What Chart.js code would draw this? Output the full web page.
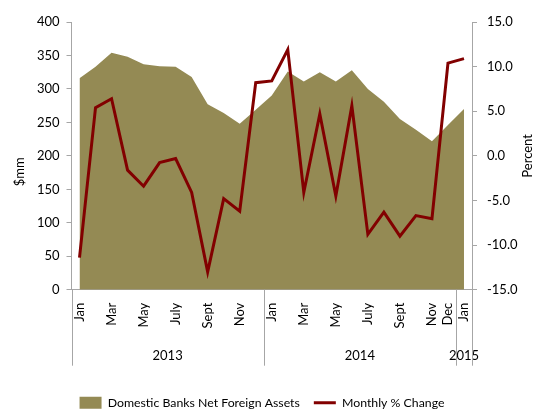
<!DOCTYPE html>
<html>
<head>
<meta charset="utf-8">
<script src="https://cdn.jsdelivr.net/npm/chart.js@4.4.1/dist/chart.umd.min.js"></script>
<style>
body{margin:0;overflow:hidden;background:#fff}
#wrap{width:538px;height:419px;position:relative}
</style>
</head>
<body>
<div id="wrap"><canvas id="grafico"></canvas></div>
<script>
// one entry per month, Jan 2013 .. Jan 2015
var rotulosMeses = ["Jan","","Mar","","May","","July","","Sept","","Nov","",
                    "Jan","","Mar","","May","","July","","Sept","","Nov","Dec","Jan"];
var anos = ["2013","2013","2013","2013","2013","2013","2013","2013","2013","2013","2013","2013",
            "2014","2014","2014","2014","2014","2014","2014","2014","2014","2014","2014","2014","2015"];
var ativosExternos = [316,333,354,348,337,334,333,318,277,264,248,269,
                      290,326,311,325,311,328,300,281,255,239,222,246,270];
var variacaoMensal = [-11.4,5.4,6.4,-1.6,-3.4,-0.75,-0.3,-4.1,-13.0,-4.8,-6.2,8.2,
                      8.4,11.9,-4.1,4.7,-4.5,5.6,-8.8,-6.3,-9.0,-6.7,-7.05,10.4,10.9];
var ticksEsquerda = [0,400,50];
var ticksDireita = [-15,15,5];

var corArea = "#948A54";
var corLinha = "#820000";
var corEixo = "#A6A6A6";
var fonte = "Lato";

// year groups: name, first index, last index
var grupos = [];
anos.forEach(function(a, i){
	var g = grupos[grupos.length - 1];
	if(!g || g.nome != a){
		grupos.push({nome: a, ini: i, fim: i});
	}else{
		g.fim = i;
	}
});

var titulosEixos = {
	id: 'titulosEixos',
	afterDraw: function(chart){
		var ctx = chart.ctx;
		var meio = (chart.chartArea.top + chart.chartArea.bottom) / 2;
		ctx.save();
		ctx.font = "13px " + fonte;
		ctx.fillStyle = "#000";
		ctx.textAlign = "center";
		ctx.textBaseline = "middle";
		ctx.translate(20, meio + 16);
		ctx.rotate(-Math.PI / 2);
		ctx.fillText("$mm", 0, 0);
		ctx.restore();
		ctx.save();
		ctx.font = "13px " + fonte;
		ctx.fillStyle = "#000";
		ctx.textAlign = "center";
		ctx.textBaseline = "middle";
		ctx.translate(chart.width - 10, meio);
		ctx.rotate(-Math.PI / 2);
		ctx.fillText("Percent", 0, 0);
		ctx.restore();
	}
};

// vertical separators between the year groups, below the axis
var separadoresAnos = {
	id: 'separadoresAnos',
	afterDraw: function(chart){
		var ctx = chart.ctx;
		var s = chart.scales.x2;
		var topo = chart.chartArea.bottom;
		var fim = s.top + 28;
		ctx.save();
		ctx.strokeStyle = corEixo;
		ctx.lineWidth = 1;
		ctx.beginPath();
		grupos.forEach(function(g){
			var px = Math.round(s.getPixelForValue(g.ini - 0.5)) + 0.5;
			ctx.moveTo(px, topo);
			ctx.lineTo(px, fim);
		});
		var ult = Math.round(s.getPixelForValue(anos.length - 0.5)) + 0.5;
		ctx.moveTo(ult, topo);
		ctx.lineTo(ult, fim);
		ctx.stroke();
		ctx.restore();
	}
};

new Chart(document.getElementById("grafico"), {
	type: 'line',
	data: {
		labels: rotulosMeses,
		datasets: [
			{
				label: "Domestic Banks Net Foreign Assets",
				data: ativosExternos,
				yAxisID: 'y',
				order: 2,
				fill: 'origin',
				backgroundColor: corArea,
				borderColor: corArea,
				borderWidth: 0,
				pointRadius: 0,
				pointStyle: 'rect',
				tension: 0
			},
			{
				label: "Monthly % Change",
				data: variacaoMensal,
				yAxisID: 'y1',
				order: 1,
				fill: false,
				backgroundColor: corLinha,
				borderColor: corLinha,
				borderWidth: 3,
				pointRadius: 0,
				pointStyle: 'line',
				tension: 0
			}
		]
	},
	options: {
		responsive: true,
		maintainAspectRatio: false,
		animation: false,
		layout: { padding: { left: 0, right: 14, top: 22, bottom: 0 } },
		plugins: {
			tooltip: { enabled: false },
			legend: {
				position: 'bottom',
				labels: {
					usePointStyle: true,
					pointStyleWidth: 22,
					boxHeight: 12,
					padding: 14,
					color: "#000",
					font: { family: fonte, size: 12.3 },
					sort: function(a, b){ return a.datasetIndex - b.datasetIndex; }
				}
			}
		},
		scales: {
			x: {
				type: 'category',
				offset: true,
				weight: 0,
				afterFit: function(s){ s.height = 48; },
				ticks: {
					autoSkip: false,
					maxRotation: 90,
					minRotation: 90,
					padding: 13,
					color: "#000",
					font: { family: fonte, size: 13 }
				},
				grid: { drawOnChartArea: false, drawTicks: false },
				border: { color: corEixo }
			},
			x2: {
				type: 'linear',
				position: 'bottom',
				weight: 1,
				min: -0.5,
				max: anos.length - 0.5,
				afterBuildTicks: function(s){
					s.ticks = grupos.map(function(g){ return { value: (g.ini + g.fim) / 2 }; });
				},
				afterFit: function(s){ s.height = 45; },
				ticks: {
					autoSkip: false,
					padding: 2,
					color: "#000",
					font: { family: fonte, size: 13 },
					callback: function(v, i){ return grupos[i].nome; }
				},
				grid: { display: false },
				border: { display: false }
			},
			y: {
				position: 'left',
				min: ticksEsquerda[0],
				max: ticksEsquerda[1],
				afterFit: function(s){ s.width = 71.5; },
				ticks: {
					stepSize: ticksEsquerda[2],
					padding: 7,
					color: "#000",
					font: { family: fonte, size: 13 }
				},
				grid: { drawOnChartArea: false, tickLength: 5, color: corEixo },
				border: { color: corEixo }
			},
			y1: {
				position: 'right',
				min: ticksDireita[0],
				max: ticksDireita[1],
				afterFit: function(s){ s.width = 52; },
				ticks: {
					stepSize: ticksDireita[2],
					padding: 10,
					color: "#000",
					font: { family: fonte, size: 13 },
					callback: function(v){ return v.toFixed(1); }
				},
				grid: { drawOnChartArea: false, tickLength: 5, color: corEixo },
				border: { color: corEixo }
			}
		}
	},
	plugins: [titulosEixos, separadoresAnos]
});
</script>
</body>
</html>
